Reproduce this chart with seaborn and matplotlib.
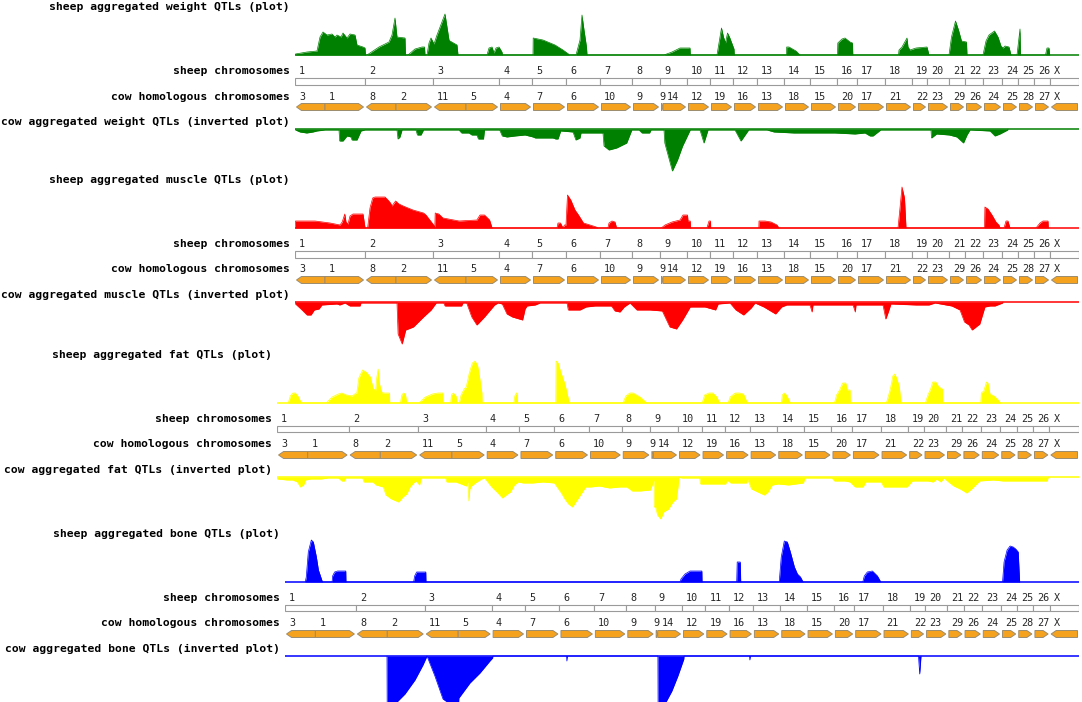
import numpy as np
import pandas as pd
import seaborn as sns
import matplotlib.pyplot as plt
from matplotlib.patches import Polygon, Rectangle

# ---- chromosome layout (units along the genome axis) ----
sheep_names = ['1', '2', '3', '4', '5', '6', '7', '8', '9', '10', '11', '12', '13', '14',
               '15', '16', '17', '18', '19', '20', '21', '22', '23', '24', '25', '26', 'X']
sheep_widths = [70, 68, 66, 33, 34, 34, 32, 28, 27, 23, 23, 24, 27, 26, 27, 20, 28, 27,
                15, 22, 16, 18, 19, 16, 16, 16, 29]

cow_names = ['3', '1', '8', '2', '11', '5', '4', '7', '6', '10', '9', '9', '14', '12', '19',
             '16', '13', '18', '15', '20', '17', '21', '22', '23', '29', '26', '24', '25',
             '28', '27', 'X']
cow_widths = [30, 40, 31, 37, 33, 33, 33, 34, 34, 32, 28, 3, 24, 23, 23, 24, 27, 26, 27,
              20, 28, 27, 15, 22, 16, 18, 19, 16, 16, 16, 29]
cow_reversed = [1, 0, 1, 0, 1, 0, 0, 0, 0, 0, 0, 0, 0, 0, 0, 0, 0, 0, 0, 0, 0, 0, 0, 0,
                0, 0, 0, 0, 0, 0, 1]

traits = ['weight', 'muscle', 'fat', 'bone']
trait_colors = ['#008000', '#ff0000', '#ffff00', '#0000ff']

# ---- aggregated QTL profiles: (position, height in px) ----
weight_sheep = [(0, 0), (0.5, 1), (12, 3), (22, 4), (25, 18), (28, 23), (32, 20), (37, 21),
                (40, 18), (42, 20), (46, 18), (48, 22), (52, 17), (55, 21), (60, 20), (62, 10),
                (68, 8), (70, 7), (70.5, 0), (72, 0), (84, 8), (94, 13), (97, 20), (100, 37),
                (102, 18), (110, 17), (110.5, 0), (113, 0), (120, 6), (127, 8), (129.5, 8),
                (130, 0), (132, 0), (134, 12), (136, 17), (139, 11), (142, 20), (150, 41),
                (154, 15), (155, 14), (162, 10), (163, 0), (192, 0), (194, 7), (197, 8),
                (199, 2), (201, 7), (204, 8), (207, 3), (207.5, 0), (238, 0), (238.2, 17),
                (248, 15), (260, 10), (268, 5), (273.5, 1), (274, 0), (281, 0), (285, 15),
                (287, 40), (289, 25), (291.5, 8), (292, 0), (369, 0), (377, 3), (385, 7),
                (395, 7), (395.3, 0), (422, 0), (424.5, 15), (426.5, 27), (428.5, 18),
                (430.5, 12), (432.5, 22), (434.5, 18), (439, 6), (439.3, 0), (491.5, 0),
                (491.7, 8), (494, 8), (501, 4), (505, 0), (542.5, 0), (542.8, 12), (547, 16),
                (550, 17), (555, 13), (557.5, 12), (557.8, 0), (603.5, 0), (604, 5), (607, 8),
                (612, 17), (613, 8), (615, 5), (621, 7), (632, 8), (634, 0), (654, 0),
                (656.5, 18), (660.5, 34), (663.5, 25), (666.5, 14), (671.5, 13), (672, 0),
                (688, 0), (691, 14), (694, 20), (699.5, 24), (703, 18), (706, 9), (708, 7),
                (710, 9), (714, 8), (716, 0), (722, 0), (725, 26), (725.5, 0), (750.5, 0),
                (752, 7), (754, 7), (754.7, 0)]
weight_cow = [(0, 0), (0.5, 1), (5, 3), (11.7, 4), (18, 3), (21.8, 2), (30, 1), (44, 1),
              (44.7, 12), (48, 12), (52, 7), (56, 8), (57, 11), (62, 11), (66, 2), (70, 1),
              (102, 1), (103, 10), (105, 8), (107, 1), (121, 1), (122.4, 6), (126, 6),
              (128.5, 1), (164, 1), (166.6, 4), (174, 4), (176.8, 6), (181.9, 6), (183.4, 10),
              (188.5, 10), (189.5, 1), (204.7, 1), (207.3, 7), (212, 8), (220, 7), (230, 6),
              (238, 8), (240.3, 9), (258, 9), (260.6, 10), (263, 10), (265.7, 2), (278, 3),
              (280.9, 11), (285, 9), (286, 4), (308, 4), (309, 17), (314, 21), (321.6, 19),
              (331.7, 14), (336.8, 1), (344, 1), (347, 4), (354.6, 4), (356, 1), (369, 1),
              (369.8, 14), (377.4, 42), (382.5, 31), (387.6, 17), (395.2, 1), (405, 1),
              (409, 14), (413, 1), (440, 1), (446, 12), (453.6, 1), (472, 1), (479, 3),
              (499, 4), (520, 4), (540, 4), (560, 5), (570, 4), (575, 7), (578, 7),
              (585.7, 1), (636, 1), (636.5, 9), (641.6, 5), (654.3, 6), (661.9, 8),
              (668.5, 14), (672, 6), (675, 1), (695, 2), (700, 7), (705, 5), (712.7, 1),
              (713, 0)]
muscle_sheep = [(0, 0), (0.5, 7), (20, 7), (35, 5), (45, 3), (47.2, 6), (49.8, 14), (51, 6),
                (53, 4), (55, 12), (58, 14), (65, 14), (68, 14), (70.1, 0), (72.6, 0), (75, 20),
                (77.7, 30), (80, 31), (86, 31), (90, 31), (93, 28), (95.5, 25), (97, 22),
                (100.6, 27), (104, 24), (108.2, 22), (118, 18), (128.5, 15), (131, 13),
                (138.7, 3), (139.8, 0), (140.2, 15), (143.8, 14), (148, 10), (164.1, 7),
                (181.9, 8), (185, 13), (189.5, 13), (194.6, 8), (197.1, 0), (262, 0), (263, 5),
                (265.5, 5), (268, 0), (269.5, 3), (271, 3), (272.5, 33), (275.8, 28), (280, 18),
                (283.5, 13), (288.5, 5), (295, 3), (301.2, 1), (303, 0), (312.9, 0), (314, 5),
                (317, 7), (320, 6), (321.6, 0), (366.3, 0), (370, 3), (377, 6), (385, 8),
                (388, 13), (392.5, 13), (393, 7), (395.2, 7), (395.5, 0), (411.9, 0), (414, 7),
                (415.5, 7), (415.7, 0), (463.8, 0), (464, 7), (470, 7), (476, 6), (482, 3),
                (484, 0), (603, 0), (605, 20), (607, 41), (609.5, 30), (611, 0), (689.5, 0),
                (689.9, 21), (693, 19), (697, 13), (701, 6), (704, 3), (705, 0), (709, 0),
                (711, 7), (713, 7), (715, 0), (741, 0), (745, 5), (748, 7), (753, 7),
                (753.3, 0)]
muscle_cow = [(0, 0), (0.5, 2), (7, 8), (12, 13), (16, 13), (19.3, 8), (24, 7), (26.9, 3),
              (42, 2), (44.7, 3), (50, 1), (54.9, 4), (65, 4), (66, 1), (102, 1), (103.1, 32),
              (107.2, 42), (110.7, 28), (118.4, 25), (128.5, 15), (136.1, 8), (141.2, 1),
              (148.8, 1), (150, 4), (166.6, 4), (168, 1), (171.7, 1), (176.8, 15), (181.9, 23),
              (189.5, 15), (199.6, 3), (203, 1), (207.3, 2), (212, 12), (217.4, 15),
              (227.6, 18), (229, 12), (230.1, 7), (232, 4), (240.3, 3), (245, 1), (272, 1),
              (273.3, 8), (285, 8), (291.1, 5), (300, 4), (316.5, 4), (320, 9), (325, 10),
              (329.2, 5), (335, 1), (341.9, 8), (355, 8), (367.3, 9), (374.9, 25), (381.5, 27),
              (387.6, 18), (395.2, 5), (402.8, 5), (410, 5), (420.6, 8), (423.2, 2), (435, 1),
              (440.9, 8), (448.6, 13), (456.2, 6), (460, 1), (468.9, 5), (480.6, 12),
              (486.7, 5), (491.7, 3), (515, 3), (517.1, 10), (518, 3), (558, 3), (560.3, 10),
              (561, 3), (588, 3), (590.8, 17), (593.3, 10), (595.9, 2), (621.3, 3), (634, 3),
              (640, 1), (656.8, 4), (665, 8), (669.5, 20), (674, 23), (677.2, 28),
              (684.8, 22), (689.9, 5), (695, 4), (700, 4), (707.6, 1), (708, 0)]
fat_sheep = [(11, 0), (13, 7), (15.5, 10), (18, 10), (21, 6), (23.8, 0), (48, 0), (54, 6),
             (60, 9), (63.4, 10), (68, 8), (73.5, 7), (76, 9), (78, 10), (80, 25), (83.7, 33),
             (87, 31), (91.3, 26), (93.8, 15), (96.3, 12), (97.5, 25), (98.9, 34), (100, 20),
             (101.4, 14), (102.9, 10), (110, 10), (110.2, 0), (120.7, 0), (122, 8),
             (123.7, 10), (125.5, 9), (126.8, 0), (139, 0), (145, 6), (152, 9), (157.2, 10),
             (162.2, 10), (162.4, 0), (169.8, 0), (170.5, 8), (172.4, 10), (175, 7), (176, 0),
             (178, 0), (180, 8), (183, 14), (185, 16), (188, 30), (191, 40), (193.5, 42),
             (196, 38), (198, 26), (200.3, 10), (200.5, 0), (231.5, 0), (232.5, 7), (234, 10),
             (234.7, 10), (235, 0), (272.5, 0), (272.8, 42), (274.8, 40), (277, 32),
             (281.4, 19), (284, 8), (285.4, 1), (286, 0), (338.2, 0), (341, 7), (345, 10),
             (348, 10), (355, 6), (361.5, 0), (415.7, 0), (418, 8), (422.3, 10), (426, 10),
             (430, 6), (432.5, 0), (441, 0), (443, 6), (448, 10), (452, 10), (456, 9),
             (459.8, 0), (493, 0), (494, 8), (495.8, 10), (498, 8), (501.9, 0), (545, 0),
             (547, 8), (550, 13), (553, 20), (556, 20), (557.5, 13), (560.2, 13), (560.4, 0),
             (595.7, 0), (598, 8), (600, 16), (602, 27), (604, 29), (606, 24), (608.4, 16),
             (609.9, 0), (633.8, 0), (636.3, 8), (639, 14), (641, 21), (644, 21), (647, 16),
             (650.5, 14), (650.8, 0), (688, 0), (688.5, 10), (691, 12), (693.5, 21),
             (695, 20), (697, 9), (701, 7), (705, 3), (707.3, 0)]
fat_cow = [(0, 0), (0.3, 2), (10, 3), (15.2, 3), (20, 5), (22.8, 10), (26, 8), (27.9, 3),
           (32.9, 2), (43.1, 2), (50, 1), (60, 1), (63.4, 4), (65.9, 4), (67, 1), (83.7, 1),
           (85, 5), (93.8, 5), (97, 8), (103.9, 10), (106.5, 18), (112, 22), (119.1, 25),
           (123, 20), (126.8, 17), (130, 10), (134.4, 5), (136, 4), (139.4, 8), (141, 1),
           (164.8, 1), (166, 5), (175, 5), (180, 7), (185, 9), (186.5, 5), (187.6, 24),
           (188.5, 12), (190.1, 9), (195.2, 5), (200, 2), (203, 1), (205.3, 4), (210, 10),
           (216, 16), (220.5, 21), (224, 18), (228.2, 15), (232, 8), (235.8, 5), (240.8, 6),
           (250, 6), (260, 5), (271.2, 6), (273.8, 10), (278, 16), (281.4, 22), (285, 27),
           (288.9, 30), (292, 25), (296.6, 18), (301.7, 10), (306.7, 10), (315, 9),
           (325, 11), (335, 10), (342.2, 10), (347.3, 14), (355, 14), (365, 13), (368.6, 3),
           (368.8, 30), (370.1, 30), (372, 38), (375.2, 42), (378, 35), (382.8, 32),
           (387, 25), (390.4, 22), (392, 10), (392.9, 0), (395, 1), (413.2, 1), (414, 7),
           (425, 7), (438.6, 7), (440, 3), (443.6, 6), (458.8, 6), (460, 2), (463.9, 12),
           (470, 15), (476.6, 18), (480, 15), (484.2, 8), (490, 7), (500, 8), (514.6, 6),
           (516, 1), (542.5, 1), (545, 4), (555, 4), (560.2, 5), (565.3, 10), (573, 10),
           (575.4, 5), (590.7, 5), (593.2, 10), (605, 10), (616, 10), (621.1, 4),
           (636.3, 4), (641.4, 5), (645, 2), (649, 5), (652, 1), (656.6, 5), (661.6, 9),
           (668, 12), (674.3, 16), (679, 12), (681.9, 9), (687, 4), (700, 3), (709.8, 4),
           (730, 4), (752.9, 4), (754, 0)]
bone_sheep = [(20, 0), (21, 5), (23, 30), (26, 42), (28, 40), (31, 25), (33, 12), (36, 3),
              (37, 0), (46.5, 0), (47, 6), (49, 10), (52, 11), (60, 11), (60.2, 0), (127, 0),
              (128, 6), (130, 10), (135, 10), (139, 10), (139.2, 0), (390, 0), (391, 3),
              (395, 8), (400, 11), (406, 11), (411.6, 11), (411.8, 0), (446, 0), (446.5, 20),
              (449.5, 20), (450, 0), (488, 0), (490, 25), (493, 41), (496, 40), (499, 30),
              (503, 15), (506, 8), (509, 5), (511.6, 0), (570.5, 0), (572, 6), (575, 10),
              (580, 11), (585, 6), (588.3, 0), (708.5, 0), (710, 20), (713, 32), (716, 36),
              (719, 35), (721.5, 33), (724, 30), (725.4, 0)]
bone_cow = [(100.7, 0), (100.9, 55), (108.6, 48), (118.4, 38), (128.3, 24), (136.2, 9),
            (140.2, 0), (148, 20), (156, 43), (162.9, 48), (168.8, 46), (170.8, 60),
            (171.7, 42), (182.6, 27), (192.5, 17), (202.3, 5), (205, 2), (205.3, 0),
            (278, 0), (278.3, 5), (278.8, 0), (368.2, 0), (368.4, 55), (375.1, 48),
            (382, 35), (387.9, 20), (393.8, 3), (394, 0), (458.7, 0), (459, 4), (459.5, 0),
            (625.5, 0), (626.7, 18), (628, 0)]

profiles = {
    'weight': (weight_sheep, weight_cow),
    'muscle': (muscle_sheep, muscle_cow),
    'fat': (fat_sheep, fat_cow),
    'bone': (bone_sheep, bone_cow),
}

# ---- panel placement in pixels ----
W, H = 1082, 702
panel_top = [7, 180, 355, 534]
panel_left = [295, 295, 277, 285]
panel_right = 1079
BASE_UP, BAR_Y, ARROW_Y, BASE_DN = 48, 71, 96.5, 122
TIP = 5

sns.set_theme(style='white')
plt.rcParams['font.family'] = ['DejaVu Sans Mono']

fig = plt.figure(figsize=(W / 100, H / 100), dpi=100)
genome_len = sum(sheep_widths)
sheep_starts = np.concatenate([[0], np.cumsum(sheep_widths)[:-1]])
sheep_bounds = set(np.cumsum(sheep_widths).tolist()) | {0}
cow_starts = np.concatenate([[0], np.cumsum(cow_widths)[:-1]])

label_kw = dict(xycoords=('axes fraction', 'data'), textcoords='offset pixels',
                ha='right', va='center', fontsize=8.2, fontweight='bold', color='black')

for i, trait in enumerate(traits):
    top, left = panel_top[i], panel_left[i]
    color = trait_colors[i]
    ax = fig.add_axes([left / W, 1 - (top + 175) / H, (panel_right - left) / W, 185 / H])
    ax.set_facecolor('none')

    # QTL profiles
    up, down = profiles[trait]
    up_df = pd.DataFrame(up, columns=['pos', 'h'])
    dn_df = pd.DataFrame(down, columns=['pos', 'h'])
    ax.fill_between(up_df['pos'], BASE_UP, BASE_UP - up_df['h'], color=color, lw=0)
    ax.fill_between(dn_df['pos'], BASE_DN, BASE_DN + dn_df['h'], color=color, lw=0)
    up_df['y'] = BASE_UP - up_df['h']
    dn_df['y'] = BASE_DN + dn_df['h']
    sns.lineplot(data=up_df, x='pos', y='y', estimator=None, sort=False, color=color,
                 lw=0.5, ax=ax, legend=False)
    sns.lineplot(data=dn_df, x='pos', y='y', estimator=None, sort=False, color=color,
                 lw=0.5, ax=ax, legend=False)
    ax.axhline(BASE_UP, color=color, lw=1.1)
    ax.axhline(BASE_DN, color=color, lw=1.1)

    # sheep chromosome bar
    for name, x0, w in zip(sheep_names, sheep_starts, sheep_widths):
        ax.add_patch(Rectangle((x0, BAR_Y), w, 6.5, fc='white', ec='#9a9a9a', lw=0.8))
        ax.text(x0 + 4, BAR_Y - 7, name, fontsize=7.3, ha='left', va='center')

    # cow homologous segments as arrows
    y0, y1 = ARROW_Y, ARROW_Y + 7
    ym = (y0 + y1) / 2
    for name, x0, w, rev in zip(cow_names, cow_starts, cow_widths, cow_reversed):
        a = x0 + (1.5 if x0 in sheep_bounds else 0)
        b = x0 + w - (1.5 if (x0 + w) in sheep_bounds else 0)
        t = min(TIP, w * 0.4)
        if rev:
            pts = [(a, ym), (a + t, y0), (b, y0), (b, y1), (a + t, y1)]
        else:
            pts = [(a, y0), (b - t, y0), (b, ym), (b - t, y1), (a, y1)]
        ax.add_patch(Polygon(pts, closed=True, fc='#f5a31e', ec='#9c8c70', lw=0.7))
        dx = 4 if w > 6 else -1
        ax.text(x0 + dx, ARROW_Y - 7, name, fontsize=7.3, ha='left', va='center')

    # row labels
    ax.annotate(f'sheep aggregated {trait} QTLs (plot)', xy=(0, 0), xytext=(-5, 0), **label_kw)
    ax.annotate('sheep chromosomes', xy=(0, BAR_Y - 7), xytext=(-5, 0), **label_kw)
    ax.annotate('cow homologous chromosomes', xy=(0, ARROW_Y - 7), xytext=(-5, 0), **label_kw)
    ax.annotate(f'cow aggregated {trait} QTLs (inverted plot)', xy=(0, BASE_DN - 7.5),
                xytext=(-5, 0), **label_kw)

    ax.set_xlim(0, genome_len)
    ax.set_ylim(175, -10)
    ax.axis('off')

fig.savefig('out.png', dpi=100, facecolor='white')
